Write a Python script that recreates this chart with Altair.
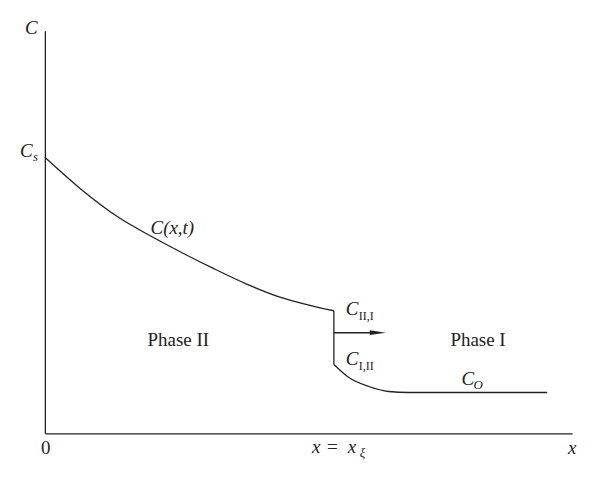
import altair as alt
import pandas as pd

# Concentration profile (x, C) in arbitrary units
upper_x = [0, 35, 75, 108, 142, 168, 202, 235, 268, 290]
upper_c = [277, 246, 216, 197, 179, 166, 150, 137, 128, 123]
drop_x = [290, 290]
drop_c = [123, 69]
lower_x = [290, 305, 325, 345, 365, 504]
lower_c = [69, 56, 47, 42, 41, 41]

arrow_x = [290, 334]
arrow_c = [101, 101]

# labels: text, x, y
main_it_text = ["C", "C", "C(x,t)", "C", "C", "C", "x", "x", "x"]
main_it_x = [-20, -25, 106, 302, 302, 418, 268, 304, 525]
main_it_y = [401, 277, 200, 119, 69, 49, -20, -20, -21]

sub_it_text = ["s", "O", "ξ"]
sub_it_x = [-12, 430, 316]
sub_it_y = [273, 44, -24]

sub_up_text = ["II,I", "I,II"]
sub_up_x = [315, 315]
sub_up_y = [114, 64]

main_up_text = ["Phase II", "Phase I", "0", "="]
main_up_x = [103, 407, -4, 283]
main_up_y = [88, 88, -21, -20]

XD = [0, 529]
YD = [0, 404]
FONT = "Liberation Serif"
INK = "#222222"

xs = alt.Scale(domain=XD, nice=False, zero=False)
ys = alt.Scale(domain=YD, nice=False, zero=False)
ax = dict(domain=True, ticks=False, labels=False, grid=False, title=None,
          domainColor=INK, domainWidth=1.3)


def seg(xv, cv, interp, first=False):
    df = pd.DataFrame({"x": xv, "c": cv})
    if first:
        enc = dict(x=alt.X("x:Q", scale=xs, axis=alt.Axis(**ax)),
                   y=alt.Y("c:Q", scale=ys, axis=alt.Axis(**ax)))
    else:
        enc = dict(x=alt.X("x:Q", scale=xs), y=alt.Y("c:Q", scale=ys))
    return alt.Chart(df).mark_line(color=INK, strokeWidth=1.3, interpolate=interp).encode(**enc)


upper = seg(upper_x, upper_c, "monotone", first=True)
drop = seg(drop_x, drop_c, "linear")
lower = seg(lower_x, lower_c, "monotone")

arrow_df = pd.DataFrame({"x": arrow_x, "c": arrow_c})
arrow_line = alt.Chart(arrow_df).mark_line(color=INK, strokeWidth=1.5).encode(
    x=alt.X("x:Q", scale=xs), y=alt.Y("c:Q", scale=ys)
)
head = alt.Chart(arrow_df.iloc[[1]]).mark_point(
    shape="M-1,-0.3 L1,0 L-1,0.3 Z", size=256, filled=True, color=INK, opacity=1
).encode(x=alt.X("x:Q", scale=xs), y=alt.Y("c:Q", scale=ys))


def txt(t, x, y, size, style):
    df = pd.DataFrame({"t": t, "x": x, "c": y})
    return alt.Chart(df).mark_text(
        font=FONT, fontSize=size, fontStyle=style, align="left", baseline="alphabetic", color=INK
    ).encode(x=alt.X("x:Q", scale=xs), y=alt.Y("c:Q", scale=ys), text="t:N")


labels = [
    txt(main_it_text, main_it_x, main_it_y, 19, "italic"),
    txt(sub_it_text, sub_it_x, sub_it_y, 13, "italic"),
    txt(sub_up_text, sub_up_x, sub_up_y, 12, "normal"),
    txt(main_up_text, main_up_x, main_up_y, 19, "normal"),
]

chart = alt.layer(upper, drop, lower, arrow_line, head, *labels).properties(
    width=529, height=404,
    padding={"left": 37, "top": 22, "right": 20, "bottom": 40},
    autosize=alt.AutoSizeParams(type="none"),
).configure_view(stroke=None)

chart.save("out.html", embed_options={"renderer": "svg", "actions": False})
